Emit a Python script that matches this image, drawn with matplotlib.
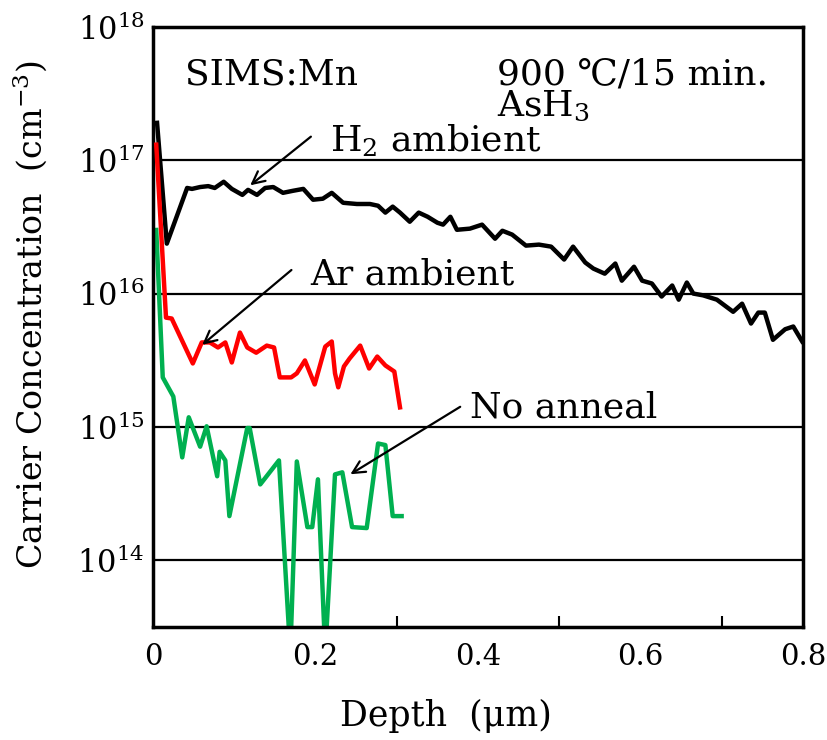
import matplotlib
matplotlib.use('Agg')
import matplotlib.pyplot as plt
from matplotlib.ticker import FixedLocator, NullFormatter

# Datos (profundidad en um, concentracion en cm^-3)
h2_depth = [0.005, 0.017, 0.042, 0.048, 0.058, 0.068, 0.076, 0.087, 0.097, 0.110,
            0.117, 0.128, 0.138, 0.148, 0.160, 0.172, 0.185, 0.197, 0.209, 0.220,
            0.234, 0.251, 0.267, 0.277, 0.286, 0.295, 0.304, 0.316, 0.327, 0.338,
            0.350, 0.357, 0.366, 0.374, 0.390, 0.405, 0.421, 0.430, 0.442, 0.459,
            0.475, 0.490, 0.506, 0.517, 0.532, 0.542, 0.556, 0.569, 0.577, 0.592,
            0.602, 0.614, 0.626, 0.639, 0.647, 0.657, 0.665, 0.677, 0.694, 0.714,
            0.725, 0.736, 0.745, 0.753, 0.763, 0.778, 0.788, 0.799]
h2_conc = [1.91e17, 2.37e16, 6.2e16, 6.1e16, 6.3e16, 6.4e16, 6.2e16, 6.9e16, 6.1e16, 5.5e16,
           6.0e16, 5.5e16, 6.2e16, 6.3e16, 5.7e16, 5.9e16, 6.1e16, 5.06e16, 5.15e16, 5.7e16,
           4.8e16, 4.7e16, 4.7e16, 4.56e16, 4.05e16, 4.49e16, 4.05e16, 3.46e16, 4.05e16, 3.77e16,
           3.4e16, 3.29e16, 3.77e16, 3.01e16, 3.07e16, 3.29e16, 2.58e16, 2.96e16, 2.77e16, 2.29e16,
           2.33e16, 2.25e16, 1.80e16, 2.25e16, 1.71e16, 1.54e16, 1.41e16, 1.68e16, 1.25e16, 1.59e16,
           1.25e16, 1.19e16, 9.5e15, 1.15e16, 9.0e15, 1.21e16, 1.0e16, 9.7e15, 9.0e15, 7.3e15,
           8.4e15, 5.96e15, 7.2e15, 7.2e15, 4.5e15, 5.4e15, 5.66e15, 4.37e15]

ar_depth = [0.004, 0.016, 0.023, 0.049, 0.060, 0.070, 0.080, 0.089, 0.097, 0.107,
            0.116, 0.127, 0.140, 0.149, 0.156, 0.170, 0.177, 0.187, 0.199, 0.212,
            0.220, 0.224, 0.228, 0.235, 0.242, 0.255, 0.266, 0.276, 0.286, 0.297, 0.304]
ar_conc = [1.31e17, 6.6e15, 6.5e15, 2.99e15, 4.3e15, 4.3e15, 3.94e15, 4.3e15, 3.04e15, 5.1e15,
           3.94e15, 3.6e15, 4.07e15, 3.94e15, 2.35e15, 2.35e15, 2.52e15, 3.15e15, 2.08e15, 4.0e15,
           4.37e15, 2.52e15, 1.98e15, 2.84e15, 3.26e15, 4.07e15, 2.74e15, 3.37e15, 2.89e15, 2.6e15, 1.40e15]

na_depth = [0.004, 0.012, 0.025, 0.036, 0.044, 0.058, 0.066, 0.079, 0.082, 0.089,
            0.094, 0.116, 0.119, 0.132, 0.155, 0.169, 0.177, 0.190, 0.196, 0.203,
            0.212, 0.224, 0.233, 0.245, 0.263, 0.277, 0.286, 0.295, 0.306]
na_conc = [3.0e16, 2.35e15, 1.69e15, 5.9e14, 1.18e15, 7.1e14, 1.01e15, 4.26e14, 6.5e14, 5.6e14,
           2.14e14, 9.8e14, 9.8e14, 3.7e14, 5.6e14, 2.0e13, 5.5e14, 1.77e14, 1.77e14, 4.04e14,
           2.0e13, 4.4e14, 4.56e14, 1.77e14, 1.74e14, 7.5e14, 7.3e14, 2.14e14, 2.14e14]

xticks = [0, 0.2, 0.4, 0.6, 0.8]
xtick_labels = ['0', '0.2', '0.4', '0.6', '0.8']
decades = [14, 15, 16, 17, 18]

plt.rcParams['font.family'] = ['DejaVu Serif', 'DejaVu Sans']
plt.rcParams['mathtext.fontset'] = 'dejavuserif'

fig = plt.figure(figsize=(8.27, 7.40), dpi=100)
ax = fig.add_axes([0.185, 0.153, 0.786, 0.8105])

# Lineas horizontales de cada decada
for d in decades[:-1]:
    ax.axhline(10.0**d, color='black', lw=1.6, zorder=1)

ax.plot(h2_depth, h2_conc, color='black', lw=3.2, zorder=3)
ax.plot(ar_depth, ar_conc, color='#ff0000', lw=3.2, zorder=3)
ax.plot(na_depth, na_conc, color='#00b050', lw=3.2, zorder=2)

ax.set_yscale('log')
ax.set_xlim(0, 0.8)
ax.set_ylim(10**13.5, 1e18)

ax.set_xticks(xticks)
ax.set_xticklabels(xtick_labels, fontsize=21)
ax.xaxis.set_minor_locator(FixedLocator([0.3, 0.4, 0.5, 0.6, 0.7]))
ax.xaxis.set_minor_formatter(NullFormatter())
ax.tick_params(axis='x', which='major', length=0, pad=12)
ax.tick_params(axis='x', which='minor', direction='in', length=8, width=1.5)

ax.yaxis.set_major_locator(FixedLocator([10.0**d for d in decades]))
ax.yaxis.set_minor_locator(FixedLocator([]))
ax.set_yticklabels(['$10^{%d}$' % d for d in decades], fontsize=22)
ax.tick_params(axis='y', which='major', length=0, pad=6)

for s in ax.spines.values():
    s.set_linewidth(2.5)

ax.set_xlabel('Depth  (μm)', fontsize=25)
ax.xaxis.set_label_coords(0.45, -0.12)
ax.set_ylabel('Carrier Concentration  (cm$^{-3}$)', fontsize=24)
ax.yaxis.set_label_coords(-0.16, 0.52)

# Textos
ax.text(0.04, 4.4e17, 'SIMS:Mn', fontsize=26, va='center')
ax.text(0.423, 4.4e17, '900 ℃/15 min.', fontsize=26, va='center')
ax.text(0.423, 2.55e17, 'AsH$_3$', fontsize=26, va='center')

ax.annotate('', xy=(0.117, 6.3e16), xytext=(0.197, 1.55e17),
            arrowprops=dict(arrowstyle='->', lw=1.6, color='black', mutation_scale=22))
ax.text(0.218, 1.4e17, 'H$_2$ ambient', fontsize=26, va='center')

ax.annotate('', xy=(0.058, 4.0e15), xytext=(0.173, 1.55e16),
            arrowprops=dict(arrowstyle='->', lw=1.6, color='black', mutation_scale=22))
ax.text(0.193, 1.38e16, 'Ar ambient', fontsize=26, va='center')

ax.annotate('', xy=(0.240, 4.3e14), xytext=(0.381, 1.45e15),
            arrowprops=dict(arrowstyle='->', lw=1.6, color='black', mutation_scale=22))
ax.text(0.390, 1.4e15, 'No anneal', fontsize=26, va='center')

plt.savefig('out.png', dpi=100)
